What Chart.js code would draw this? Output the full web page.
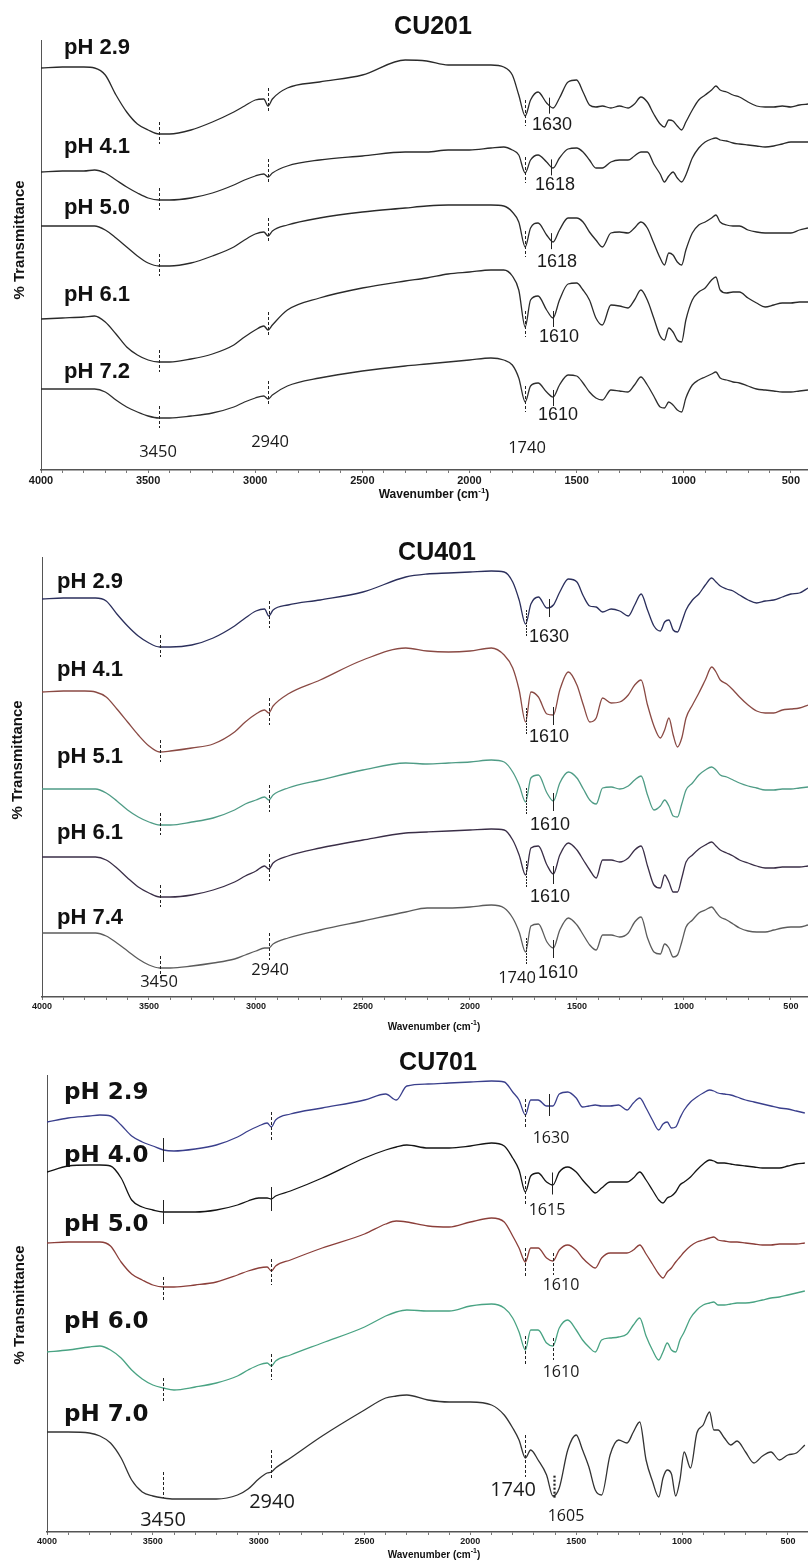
<!DOCTYPE html>
<html>
<head>
<meta charset="utf-8">
<title>FTIR spectra of CU201, CU401 and CU701 at different pH</title>
<script src="https://cdn.jsdelivr.net/npm/chart.js@4.4.1/dist/chart.umd.min.js"></script>
<style>
  html, body { margin: 0; padding: 0; background: #ffffff; }
  #wrap { position: relative; width: 808px; height: 1562px; overflow: hidden; background: #fff; }
  canvas { position: absolute; left: 0; }
</style>
</head>
<body>
<div id="wrap">
  <canvas id="c1" width="808" height="505" style="top:0px"></canvas>
  <canvas id="c2" width="808" height="530" style="top:505px"></canvas>
  <canvas id="c3" width="808" height="527" style="top:1035px"></canvas>
</div>
<script>
// ---------------------------------------------------------------------------
// Data: wavenumber grids (cm-1) and transmittance traces (offset, arbitrary units)
// ---------------------------------------------------------------------------
const wavenumbers = [4000,3900,3800,3750,3700,3650,3600,3550,3500,3450,3400,3300,3200,3100,3050,3000,2960,2940,2920,2850,
  2700,2500,2300,2200,2100,2000,1900,1840,1800,1770,1740,1715,1680,1640,1610,1580,1540,1500,1470,1440,
  1410,1380,1340,1300,1260,1230,1200,1170,1140,1110,1090,1070,1050,1030,1010,990,960,930,900,870,
  850,830,800,770,740,700,660,620,580,540,500,460,420];

const wavenumbersCU701 = [4000,3900,3800,3750,3700,3650,3600,3550,3500,3450,3400,3300,3200,3100,3050,3000,2960,2940,2920,2850,
  2700,2500,2400,2350,2300,2200,2100,2000,1900,1840,1800,1770,1740,1715,1680,1640,1610,1580,1540,1500,
  1470,1440,1410,1380,1340,1300,1260,1230,1200,1170,1140,1110,1090,1070,1050,1030,1010,990,960,930,
  900,870,850,830,800,770,740,700,660,620,580,540,500,460,420];

const wavenumberTickLabels = [4000, 3500, 3000, 2500, 2000, 1500, 1000, 500];

// common bands marked on every trace
const commonBands = [3450, 2940, 1740];

// CU201
const cu201Labels = ['pH 2.9', 'pH 4.1', 'pH 5.0', 'pH 6.1', 'pH 7.2'];
const cu201Bands = [1630, 1618, 1618, 1610, 1610];
const cu201_pH29 = [402,403,403,402,395,375,358,346,340,336,336,340,348,358,364,370,371,364,371,382,
  388,395,410,409,405,405,405,403,395,375,354,370,378,367,362,372,388,390,378,365,
  363,364,362,364,362,366,373,368,356,346,343,350,349,344,340,348,360,370,375,380,
  384,380,378,375,373,368,364,363,363,364,363,365,366];
const cu201_pH41 = [298,299,299,300,297,290,283,277,272,270,270,272,277,285,290,294,296,293,297,304,
  310,314,318,318,320,320,322,323,320,315,297,310,315,308,302,312,321,322,318,310,
  302,302,308,310,310,314,318,318,306,296,288,294,298,292,288,295,312,322,328,331,
  332,330,329,327,326,325,324,323,324,326,328,328,328];
const cu201_pH50 = [244,244,244,244,240,232,223,214,207,204,204,207,214,223,230,236,238,234,239,245,
  252,258,262,264,265,265,265,264,258,248,223,242,247,235,228,240,252,252,248,238,
  230,223,237,238,237,242,248,242,227,212,205,217,215,208,205,220,237,245,248,252,
  255,248,245,244,244,240,238,237,237,237,237,240,242];
const cu201_pH61 = [151,152,153,154,148,136,123,115,110,108,108,111,116,125,133,140,144,140,145,160,
  172,182,189,192,196,198,200,200,194,180,143,170,174,160,152,170,186,187,180,170,
  152,145,165,164,162,170,180,170,152,134,130,142,138,130,128,150,170,178,182,190,
  193,180,177,178,178,172,167,163,165,167,167,168,168];
const cu201_pH72 = [81,81,81,81,78,70,63,58,54,52,52,54,57,63,68,72,74,71,75,84,
  92,99,104,106,108,110,112,110,105,92,68,84,87,78,73,85,95,94,87,78,
  72,70,80,79,78,85,93,85,74,63,62,68,65,60,58,72,85,90,93,96,
  98,92,90,88,87,84,81,80,79,78,78,79,80];

// CU401
const cu401Labels = ['pH 2.9', 'pH 4.1', 'pH 5.1', 'pH 6.1', 'pH 7.4'];
const cu401Bands = [1630, 1610, 1610, 1610, 1610];
const cu401_pH29 = [398,399,399,399,396,383,371,361,354,350,350,352,359,371,379,386,388,381,387,392,
  397,405,420,423,424,425,426,425,415,397,373,393,400,389,392,405,418,415,401,391,
  390,385,388,386,381,392,403,387,371,366,375,377,367,365,375,387,397,403,412,419,
  415,411,408,406,402,397,394,396,397,400,403,404,409];
const cu401_pH41 = [305,306,306,305,300,288,275,262,251,245,246,249,253,265,275,283,287,284,291,303,
  317,337,349,346,345,346,349,342,329,307,275,305,300,283,282,307,325,312,292,275,
  279,299,294,295,302,312,317,292,271,259,267,279,262,250,259,279,292,304,317,330,
  325,317,313,307,300,292,286,284,284,287,288,289,292];
const cu401_pH51 = [208,208,208,208,204,196,187,180,175,172,172,175,179,187,193,197,200,197,202,209,
  217,227,234,233,234,235,237,235,225,212,195,219,222,204,196,214,225,219,208,197,
  193,209,210,208,211,217,221,202,187,191,197,191,181,180,193,207,214,222,227,230,
  227,222,220,217,214,211,209,207,207,208,208,209,210];
const cu401_pH61 = [140,140,140,140,137,129,119,110,104,100,100,102,107,115,121,126,131,128,134,141,
  149,157,164,165,166,167,168,167,157,142,122,149,151,132,123,142,154,147,137,127,
  119,137,137,135,139,147,151,131,112,109,122,115,105,105,119,135,142,148,152,155,
  151,147,144,141,137,134,131,129,129,130,130,130,131];
const cu401_pH74 = [64,64,64,64,61,54,46,38,32,29,29,31,34,38,42,46,49,49,53,59,
  67,76,85,89,89,90,92,89,79,65,45,71,73,55,49,67,79,72,62,52,
  47,62,62,60,64,75,80,59,45,43,53,49,40,42,55,70,77,84,87,90,
  85,80,77,73,69,66,65,65,67,69,70,70,72];

// CU701
const cu701Labels = ['pH 2.9', 'pH 4.0', 'pH 5.0', 'pH 6.0', 'pH 7.0'];
const cu701Bands = [1630, 1615, 1610, 1610, 1605];
const cu701_pH29 = [410,414,416,417,416,407,396,390,386,382,381,383,387,395,401,406,409,405,412,418,
  424,432,438,432,446,448,449,450,451,450,440,432,417,432,432,426,426,438,440,434,
  425,426,427,426,426,427,422,429,434,424,412,402,408,410,404,405,414,422,430,435,
  439,442,441,439,438,437,435,432,430,428,426,424,423,421,419];
const cu701_pH40 = [360,366,367,367,366,354,332,325,322,320,320,320,322,327,331,334,334,333,336,341,
  354,374,382,385,387,384,384,386,389,386,374,362,340,356,359,350,347,360,365,360,
  352,345,339,344,350,350,350,354,360,352,342,332,329,334,336,340,347,350,355,362,
  368,372,371,369,369,368,367,366,365,364,364,364,366,368,369];
const cu701_pH50 = [289,290,290,290,286,270,258,252,247,245,245,247,250,257,261,264,265,261,266,272,
  284,298,308,311,310,306,305,310,314,310,296,284,270,284,284,274,271,282,287,282,
  274,268,264,274,279,279,279,282,287,278,268,258,254,260,264,270,275,280,286,290,
  292,294,295,292,291,290,290,289,288,287,287,288,288,288,289];
const cu701_pH60 = [180,182,185,186,182,174,162,153,147,144,142,145,149,156,162,167,169,166,171,177,
  189,205,216,220,222,221,221,226,228,224,214,200,182,202,202,189,186,204,212,202,
  192,185,180,192,194,195,198,207,214,196,182,172,180,189,182,180,192,200,214,222,
  227,229,230,227,227,228,229,229,230,232,234,235,237,239,241];
const cu701_pH70 = [100,100,99,96,89,74,52,40,36,34,33,33,33,37,43,53,59,60,64,74,
  96,122,134,136,137,132,130,130,127,117,104,92,74,82,72,57,36,44,82,97,
  82,65,42,37,77,92,89,100,110,72,51,35,54,62,58,36,52,80,64,99,
  107,120,102,102,94,87,91,80,69,76,80,72,77,79,87];

// ---------------------------------------------------------------------------
// Presentation
// ---------------------------------------------------------------------------
const SANS = '"Liberation Sans", Arial, Helvetica, sans-serif';
const NARROW = '"Liberation Sans Narrow", "Arial Narrow", "Liberation Sans", Arial, sans-serif';
const HUMAN = '"Open Sans", "Noto Sans", "DejaVu Sans", sans-serif';
const WIDE = '"DejaVu Sans", Verdana, sans-serif';

const DASH = [3, 2];

const panels = [
  {
    canvas: 'c1', title: 'CU201', x: wavenumbers, labels: cu201Labels, bands: cu201Bands,
    series: [cu201_pH29, cu201_pH41, cu201_pH50, cu201_pH61, cu201_pH72],
    colors: ['#2a2a2a', '#2a2a2a', '#2a2a2a', '#2a2a2a', '#2e2e2e'],
    padTop: 40, xAxisH: 35, left: 41, xMin: 420, yMax: 430, yDash: [],
    tickSize: 11, titlePos: [433, 27], yTitlePos: [20, 240],
    xTitle: { x: 434, y: 495, size: 12 },
    phFont: 'bold 22px ' + SANS, phX: 64, phY: [48, 147, 208, 295, 372],
    bandFont: '18px ' + NARROW,
    bandPos: [[552, 125], [555, 185], [557, 262], [559, 337], [558, 415]],
    commonFont: '16.5px ' + HUMAN,
    commonPos: [[158, 452], [270, 442], [527, 448]],
    commonMarks: [
      { up: 12, down: 10, dash: DASH },
      { up: 18, down: 6, dash: DASH },
      { up: 16, down: 10, dash: DASH }
    ],
    bandMark: { up: 7, down: 9, dash: [] }
  },
  {
    canvas: 'c2', title: 'CU401', x: wavenumbers, labels: cu401Labels, bands: cu401Bands,
    series: [cu401_pH29, cu401_pH41, cu401_pH51, cu401_pH61, cu401_pH74],
    colors: ['#2b2f5c', '#8a4a44', '#4f9c86', '#3a2e47', '#5c5c5c'],
    padTop: 52, xAxisH: 38, left: 42, xMin: 420, yMax: 440, yDash: [2, 2],
    tickSize: 9, titlePos: [437, 48], yTitlePos: [18, 255],
    xTitle: { x: 434, y: 522, size: 10 },
    phFont: 'bold 22px ' + SANS, phX: 57, phY: [77, 165, 252, 328, 413],
    bandFont: '18px ' + NARROW,
    bandPos: [[549, 132], [549, 232], [550, 320], [550, 392], [558, 468]],
    commonFont: '16.5px ' + HUMAN,
    commonPos: [[159, 477], [270, 465], [517, 473]],
    commonMarks: [
      { up: 12, down: 10, dash: DASH },
      { up: 15, down: 12, dash: DASH },
      { up: 14, down: 12, dash: [2, 1] }
    ],
    bandMark: { up: 8, down: 10, dash: [] }
  },
  {
    canvas: 'c3', title: 'CU701', x: wavenumbersCU701, labels: cu701Labels, bands: cu701Bands,
    series: [cu701_pH29, cu701_pH40, cu701_pH50, cu701_pH60, cu701_pH70],
    colors: ['#3a3f8c', '#141414', '#8b3f3a', '#49a383', '#333333'],
    padTop: 40, xAxisH: 30, left: 47, xMin: 405, yMax: 457, yDash: [2, 2],
    tickSize: 9, titlePos: [438, 28], yTitlePos: [20, 270],
    xTitle: { x: 434, y: 520, size: 10 },
    phFont: 'bold 23px ' + WIDE, phX: 64, phY: [58, 121, 190, 287, 380],
    bandFont: '16px ' + HUMAN,
    bandPos: [[551, 103], [547, 175], [561, 250], [561, 337], [566, 481]],
    commonFont: '20px ' + HUMAN,
    commonPos: [[163, 485], [272, 467], [513, 455]],
    // per band, per trace
    commonMarks: [
      [{ up: 12, down: 12, dash: [] }, { up: 12, down: 12, dash: [] }, { up: 10, down: 15, dash: DASH }, { up: 10, down: 15, dash: DASH }, { up: 26, down: 0, dash: DASH }],
      [{ up: 15, down: 15, dash: DASH }, { up: 12, down: 12, dash: [] }, { up: 12, down: 14, dash: DASH }, { up: 12, down: 14, dash: DASH }, { up: 22, down: 8, dash: DASH }],
      [{ up: 16, down: 14, dash: DASH }, { up: 16, down: 12, dash: DASH }, { up: 14, down: 14, dash: DASH }, { up: 14, down: 14, dash: DASH }, { up: 23, down: 19, dash: DASH }]
    ],
    bandMarks: [
      { up: 12, down: 10, dash: [] }, { up: 12, down: 10, dash: [] }, { up: 8, down: 14, dash: DASH },
      { up: 8, down: 14, dash: DASH }, { up: 19, down: 5, dash: [2, 2], lw: 2.2 }
    ]
  }
];

// linear look-up of a trace at a given wavenumber (grid runs high -> low)
function valueAt(xs, ys, w) {
  for (let k = 0; k < xs.length - 1; k++) {
    const a = xs[k], b = xs[k + 1];
    if (w <= a && w >= b) {
      const t = (a - w) / (a - b);
      return ys[k] + t * (ys[k + 1] - ys[k]);
    }
  }
  return ys[ys.length - 1];
}

function vLine(ctx, x, y0, y1, dash, lw, color) {
  ctx.save();
  ctx.beginPath();
  ctx.setLineDash(dash || []);
  ctx.lineWidth = lw || 1;
  ctx.strokeStyle = color || '#222';
  ctx.moveTo(x, y0);
  ctx.lineTo(x, y1);
  ctx.stroke();
  ctx.restore();
}

function makeDecor(p) {
  return {
    id: 'decor_' + p.canvas,
    afterDatasetsDraw(chart) {
      const ctx = chart.ctx;
      const xs = chart.scales.x, ys = chart.scales.y;

      // band markers on every trace
      p.series.forEach((vals, i) => {
        commonBands.forEach((w, j) => {
          const st = Array.isArray(p.commonMarks[j]) ? p.commonMarks[j][i] : p.commonMarks[j];
          const px = Math.round(xs.getPixelForValue(w)) + 0.5;
          const py = ys.getPixelForValue(valueAt(p.x, vals, w));
          vLine(ctx, px, py - st.up, py + st.down, st.dash, st.lw || 1, '#222');
        });
        const bw = p.bands[i];
        const bst = p.bandMarks ? p.bandMarks[i] : p.bandMark;
        const bx = Math.round(xs.getPixelForValue(bw)) + 0.5;
        const by = ys.getPixelForValue(valueAt(p.x, vals, bw));
        vLine(ctx, bx, by - bst.up, by + bst.down, bst.dash, bst.lw || 1, '#222');
      });
    },
    afterDraw(chart) {
      const ctx = chart.ctx;
      ctx.save();
      ctx.fillStyle = '#111';
      ctx.textBaseline = 'middle';

      // panel title
      ctx.textAlign = 'center';
      ctx.font = 'bold 25px ' + SANS;
      ctx.fillText(p.title, p.titlePos[0], p.titlePos[1]);

      // pH labels
      ctx.textAlign = 'left';
      ctx.font = p.phFont;
      p.labels.forEach((t, i) => ctx.fillText(t, p.phX, p.phY[i]));

      // band numbers
      ctx.textAlign = 'center';
      ctx.fillStyle = '#1a1a1a';
      ctx.font = p.bandFont;
      p.bands.forEach((b, i) => ctx.fillText(String(b), p.bandPos[i][0], p.bandPos[i][1]));
      ctx.font = p.commonFont;
      commonBands.forEach((b, j) => ctx.fillText(String(b), p.commonPos[j][0], p.commonPos[j][1]));

      // x-axis title with superscript
      ctx.fillStyle = '#111';
      const fs = p.xTitle.size;
      const main = 'Wavenumber (cm';
      const sup = '-1';
      ctx.font = 'bold ' + fs + 'px ' + SANS;
      const w1 = ctx.measureText(main).width;
      const w3 = ctx.measureText(')').width;
      ctx.font = 'bold ' + Math.round(fs * 0.7) + 'px ' + SANS;
      const w2 = ctx.measureText(sup).width;
      let x0 = p.xTitle.x - (w1 + w2 + w3) / 2;
      ctx.textAlign = 'left';
      ctx.font = 'bold ' + fs + 'px ' + SANS;
      ctx.fillText(main, x0, p.xTitle.y);
      ctx.font = 'bold ' + Math.round(fs * 0.7) + 'px ' + SANS;
      ctx.fillText(sup, x0 + w1, p.xTitle.y - fs * 0.38);
      ctx.font = 'bold ' + fs + 'px ' + SANS;
      ctx.fillText(')', x0 + w1 + w2, p.xTitle.y);

      // y-axis title
      ctx.save();
      ctx.translate(p.yTitlePos[0], p.yTitlePos[1]);
      ctx.rotate(-Math.PI / 2);
      ctx.textAlign = 'center';
      ctx.font = 'bold 15px ' + SANS;
      ctx.fillText('% Transmittance', 0, 0);
      ctx.restore();

      ctx.restore();
    }
  };
}

const minorTicks = [];
for (let v = 500; v <= 4000; v += 100) minorTicks.push(v);

panels.forEach(p => {
  const datasets = p.series.map((vals, i) => ({
    label: p.labels[i],
    data: p.x.map((w, k) => ({ x: w, y: vals[k] })),
    borderColor: p.colors[i],
    borderWidth: 1.3,
    pointRadius: 0,
    fill: false,
    cubicInterpolationMode: 'monotone'
  }));

  new Chart(document.getElementById(p.canvas), {
    type: 'line',
    data: { datasets },
    options: {
      responsive: false,
      animation: false,
      devicePixelRatio: 1,
      layout: { padding: { top: p.padTop, left: 0, right: 0, bottom: 0 } },
      plugins: { legend: { display: false }, tooltip: { enabled: false }, title: { display: false } },
      scales: {
        x: {
          type: 'linear',
          reverse: true,
          min: p.xMin,
          max: 4000,
          afterBuildTicks: sc => { sc.ticks = minorTicks.map(v => ({ value: v })); },
          afterFit: sc => { sc.height = p.xAxisH; },
          ticks: {
            autoSkip: false,
            maxRotation: 0,
            padding: 1,
            color: '#1a1a1a',
            font: { family: SANS, weight: 'bold', size: p.tickSize },
            callback: v => (wavenumberTickLabels.includes(v) ? String(v) : '')
          },
          grid: { drawOnChartArea: false, drawTicks: true, tickLength: 3, color: '#777' },
          border: { color: '#555', width: 1.5 }
        },
        y: {
          min: 0,
          max: p.yMax,
          afterFit: sc => { sc.width = p.left; },
          ticks: { display: false },
          grid: { display: false, drawTicks: false },
          border: { color: '#555', width: 1, dash: p.yDash }
        }
      }
    },
    plugins: [makeDecor(p)]
  });
});
</script>
</body>
</html>
